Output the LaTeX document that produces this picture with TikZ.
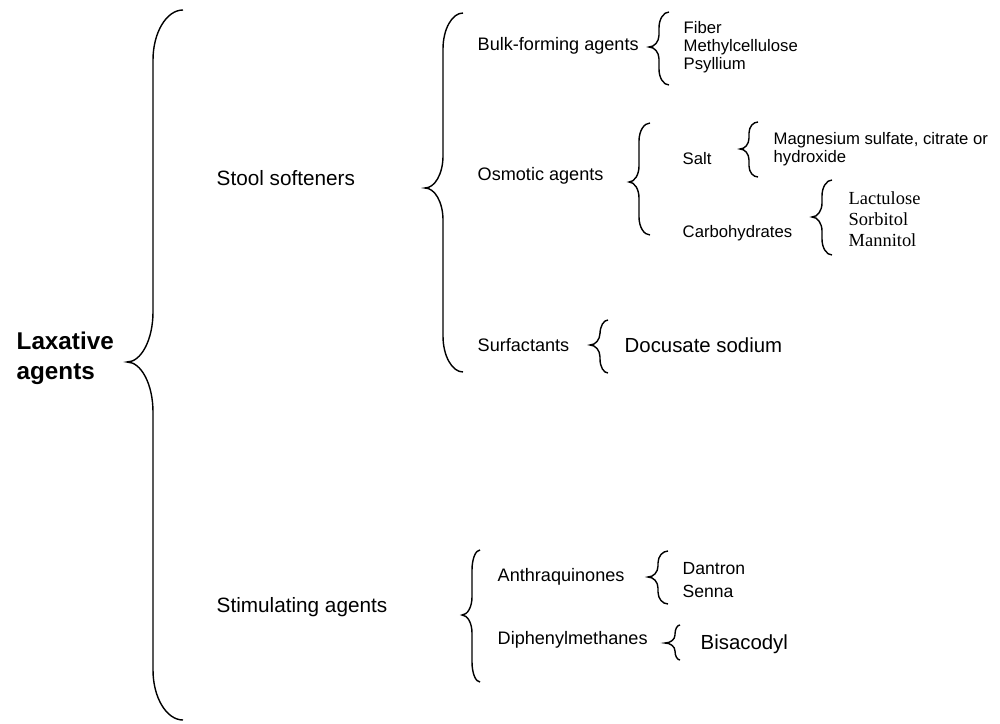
\documentclass[tikz,border=0pt]{standalone}
\usepackage{fontspec}
\setmainfont{Liberation Sans}
\newfontfamily\serifnames{Liberation Serif}

\begin{document}
\begin{tikzpicture}[x=0.02cm, y=-0.02cm, line width=0.8pt]
    \tikzstyle{baseText} = [anchor=west, inner sep=0pt, align=left]
    \tikzstyle{titleText} = [baseText, font=\fontsize{13.8}{17}\selectfont\bfseries]
    \tikzstyle{groupText} = [baseText, font=\fontsize{11.8}{14}\selectfont]
    \tikzstyle{subText} = [baseText, font=\fontsize{10.3}{12.5}\selectfont]
    \tikzstyle{itemText} = [baseText, font=\fontsize{9.5}{10.4}\selectfont]
    \tikzstyle{serifText} = [baseText, font=\serifnames\fontsize{10.5}{12}\selectfont]
    \tikzstyle{midText} = [baseText, font=\fontsize{10}{12.6}\selectfont]
    \tikzstyle{drugText} = [baseText, font=\fontsize{11.6}{14}\selectfont]
    \useasboundingbox (0,0) rectangle (1000,723);

    \node[titleText] (lax) at (16,358) {Laxative\\agents};
    \node[groupText] (stool) at (216,178) {Stool softeners};
    \node[groupText] (stim) at (216,607) {Stimulating agents};
    \node[subText] (bulk) at (477,46) {Bulk-forming agents};
    \node[itemText] (fiber) at (683,47) {Fiber\\Methylcellulose\\Psyllium};
    \node[subText] (osm) at (477,176) {Osmotic agents};
    \node[itemText] (salt) at (682,159) {Salt};
    \node[itemText] (mg) at (773,149) {Magnesium sulfate, citrate or\\hydroxide};
    \node[itemText] (carb) at (682,233) {Carbohydrates};
    \node[serifText] (sugars) at (848,219) {Lactulose\\Sorbitol\\Mannitol};
    \node[subText] (surf) at (477,345) {Surfactants};
    \node[drugText] (docu) at (624,345) {Docusate sodium};
    \node[subText] (anth) at (497,577) {Anthraquinones};
    \node[midText] (senna) at (682,580) {Dantron\\Senna};
    \node[subText] (diph) at (497,640) {Diphenylmethanes};
    \node[drugText] (bisa) at (700,644) {Bisacodyl};

    % braces: end x / line x / tip x / top / tip y / bottom / end curl / tip curl
    \foreach \xe/\xl/\xt/\yt/\ym/\yb/\ha/\hb in {183/153/127/10/362/720/50/50,
                463/443/425/13/188/372/36/32, 669/659/649/12/47/85/16/12,
                650/639/629/123/182/235/18/16, 758/749/740/122/149/177/11/11,
                832/822/812/180/217/255/16/14, 608/600/590/320/345/373/14/12,
                480/472/462/550/615/682/20/18, 668/658/648/551/577/604/12/11,
                680/675/665/625/643/660/9/8}
        \draw (\xe,\yt) .. controls ({\xe-0.55*(\xe-\xl)},\yt) and (\xl,{\yt+0.45*\ha}) .. (\xl,{\yt+\ha})
            -- (\xl,{\ym-\hb}) .. controls (\xl,{\ym-0.45*\hb}) and ({\xt+0.55*(\xl-\xt)},\ym) .. (\xt,\ym)
            .. controls ({\xt+0.55*(\xl-\xt)},\ym) and (\xl,{\ym+0.45*\hb}) .. (\xl,{\ym+\hb})
            -- (\xl,{\yb-\ha}) .. controls (\xl,{\yb-0.45*\ha}) and ({\xe-0.55*(\xe-\xl)},\yb) .. (\xe,\yb);
\end{tikzpicture}
\end{document}
